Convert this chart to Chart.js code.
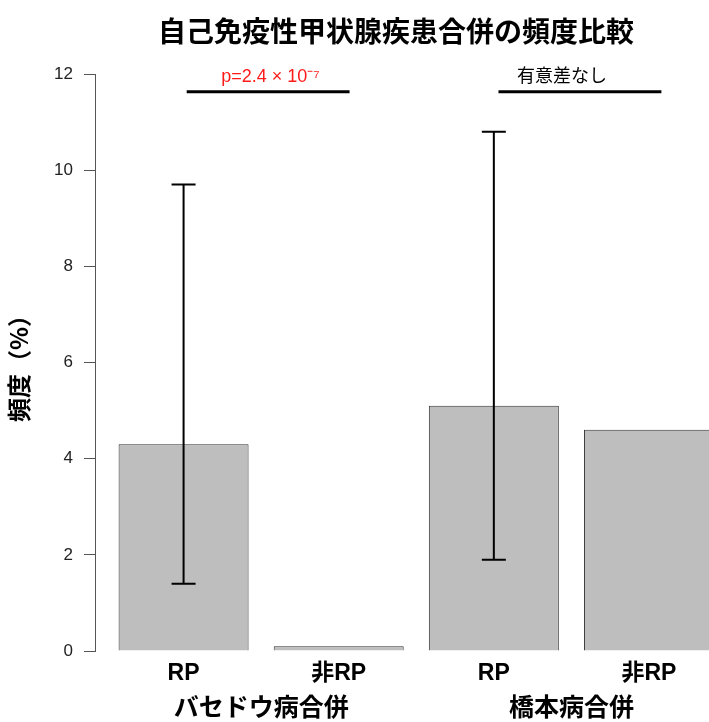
<!DOCTYPE html>
<html>
<head>
<meta charset="utf-8">
<script src="https://cdn.jsdelivr.net/npm/chart.js@4"></script>
<style>
  html, body { margin: 0; padding: 0; background: #fff; }
  #wrap { width: 709px; height: 722px; }
</style>
</head>
<body>
<div id="wrap"><canvas id="graph"></canvas></div>
<script>
const titleText = "自己免疫性甲状腺疾患合併の頻度比較";
const yTitle = "頻度（%）";
const categories = ["RP", "非RP", "RP", "非RP"];
const groups = ["バセドウ病合併", "橋本病合併"];
const freqs = [4.3, 0.1, 5.1, 4.6];
const errLow = [1.4, null, 1.9, null];
const errHigh = [9.7, null, 10.8, null];
const yTicks = [0, 2, 4, 6, 8, 10, 12];
const sigLabels = ["p=2.4 × 10⁻⁷", "有意差なし"];
const sigColors = ["#ff1a1a", "#000000"];
const sigFrom = [1.02, 3.03];
const sigTo = [2.07, 4.08];
const sigTextAt = [1.56, 3.44];
const sigLevel = 11.63;

const cjk = "'Liberation Sans', 'Noto Sans CJK JP', sans-serif";

const extras = {
    id: "extras",
    afterDatasetsDraw(chart) {
        const ctx = chart.ctx;
        const xs = chart.scales.x;
        const ys = chart.scales.y;
        ctx.save();
        // error bars
        ctx.strokeStyle = "#000";
        ctx.lineWidth = 2;
        freqs.forEach((v, i) => {
            if (errLow[i] == null) return;
            const px = xs.getPixelForValue(i + 1);
            const lo = ys.getPixelForValue(errLow[i]);
            const hi = ys.getPixelForValue(errHigh[i]);
            ctx.beginPath();
            ctx.moveTo(px, lo); ctx.lineTo(px, hi);
            ctx.moveTo(px - 12, lo); ctx.lineTo(px + 12, lo);
            ctx.moveTo(px - 12, hi); ctx.lineTo(px + 12, hi);
            ctx.stroke();
        });
        // significance lines
        ctx.lineWidth = 3;
        ctx.textAlign = "center";
        ctx.textBaseline = "alphabetic";
        sigLabels.forEach((t, i) => {
            const a = xs.getPixelForValue(sigFrom[i]);
            const b = xs.getPixelForValue(sigTo[i]);
            const py = ys.getPixelForValue(sigLevel);
            ctx.beginPath();
            ctx.moveTo(a, py); ctx.lineTo(b, py);
            ctx.stroke();
            ctx.fillStyle = sigColors[i];
            ctx.font = "18px " + cjk;
            ctx.fillText(t, xs.getPixelForValue(sigTextAt[i]), py - 10);
        });
        // group labels
        ctx.fillStyle = "#000";
        ctx.font = "bold 25px " + cjk;
        ctx.textBaseline = "middle";
        groups.forEach((g, i) => {
            const px = xs.getPixelForValue(2 * i + 1.5);
            ctx.fillText(g, px, 709);
        });
        // title
        ctx.font = "bold 28px 'Noto Sans CJK JP', sans-serif";
        ctx.fillText(titleText, 396, 31);
        ctx.restore();
    }
};

new Chart(document.getElementById("graph"), {
    type: "bar",
    data: {
        datasets: [{
            data: freqs.map((v, i) => ({ x: i + 1, y: v })),
            backgroundColor: "#bebebe",
            borderColor: "#333",
            borderWidth: 1,
            categoryPercentage: 1,
            barPercentage: 0.838
        }]
    },
    options: {
        responsive: true,
        maintainAspectRatio: false,
        animation: false,
        layout: { padding: { top: 74, right: 0, left: 0, bottom: 0 } },
        plugins: { legend: { display: false }, tooltip: { enabled: false } },
        scales: {
            x: {
                type: "linear",
                offset: false,
                min: 0.429,
                max: 4.387,
                grid: { display: false, drawTicks: false },
                border: { display: false },
                afterBuildTicks: axis => { axis.ticks = categories.map((c, i) => ({ value: i + 1 })); },
                afterFit: scale => { scale.height = 71; },
                ticks: {
                    padding: 9,
                    maxRotation: 0,
                    autoSkip: false,
                    color: "#000",
                    font: { family: cjk, size: 23, weight: "bold" },
                    callback: v => categories[v - 1]
                }
            },
            y: {
                min: 0,
                max: 12,
                afterBuildTicks: axis => { axis.ticks = yTicks.map(v => ({ value: v })); },
                afterFit: scale => { scale.width = 95; },
                grid: { drawOnChartArea: false, drawTicks: true, tickLength: 11, color: "#555", lineWidth: 1 },
                border: { display: true, color: "#555", width: 1 },
                ticks: {
                    padding: 11,
                    color: "#222",
                    font: { family: "'Liberation Sans', Arial, sans-serif", size: 17 }
                },
                title: {
                    display: true,
                    text: yTitle,
                    color: "#000",
                    padding: { top: 4, bottom: 0 },
                    font: { family: "'Noto Sans CJK JP', sans-serif", size: 24, weight: "bold" }
                }
            }
        }
    },
    plugins: [extras]
});
</script>
</body>
</html>
